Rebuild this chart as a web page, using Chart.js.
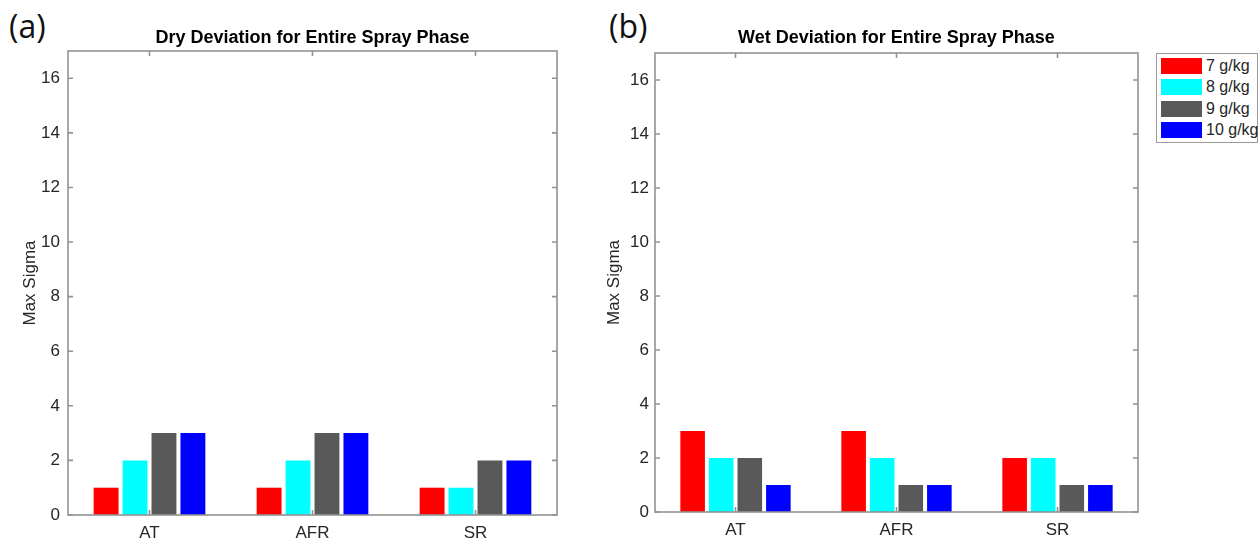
<!DOCTYPE html>
<html>
<head>
<meta charset="utf-8">
<script src="https://cdn.jsdelivr.net/npm/chart.js@4.4.1/dist/chart.umd.min.js"></script>
<style>
  html, body { margin: 0; padding: 0; background: #ffffff; }
  body { width: 1258px; height: 543px; position: relative; overflow: hidden; font-family: "Liberation Sans", Arial, sans-serif; }
  canvas { position: absolute; top: 0; }
  #dryCanvas { left: 0; }
  #wetCanvas { left: 600px; }
  .panel-tag { position: absolute; font-family: "Open Sans", "Noto Sans", sans-serif; font-size: 32px; color: #111; line-height: 1; }
  #legend { position: absolute; left: 1156px; top: 53px; width: 102px; height: 90px; border: 1px solid #9a9a9a; box-sizing: border-box; background: #fff; }
  .leg-row { position: absolute; left: 4px; height: 16px; }
  .leg-swatch { position: absolute; left: 0; top: 0; width: 41px; height: 16px; }
  .leg-text { position: absolute; left: 45px; top: -2px; font-size: 16px; line-height: 19px; color: #262626; white-space: nowrap; }
</style>
</head>
<body>
<div class="panel-tag" style="left:9px; top:10px;">(a)</div>
<div class="panel-tag" style="left:609px; top:10px;">(b)</div>
<canvas id="dryCanvas" width="600" height="543"></canvas>
<canvas id="wetCanvas" width="550" height="543"></canvas>
<div id="legend"></div>
<script>
// Categories and series
const categories = ['AT', 'AFR', 'SR'];
const seriesLabels = ['7 g/kg', '8 g/kg', '9 g/kg', '10 g/kg'];

// Max sigma, dry deviation (one array per humidity level)
const dry7 = [1, 1, 1];
const dry8 = [2, 2, 1];
const dry9 = [3, 3, 2];
const dry10 = [3, 3, 2];

// Max sigma, wet deviation
const wet7 = [3, 3, 2];
const wet8 = [2, 2, 2];
const wet9 = [2, 1, 1];
const wet10 = [1, 1, 1];

// Y axis range and tick step
const yMin = 0;
const yMax = 17;
const yStep = 2;

const seriesColors = ['#ff0000', '#00ffff', '#595959', '#0000ff'];
const tickColor = '#262626';
const frameColor = '#939393';
const fontFamily = '"Liberation Sans", Arial, sans-serif';

// Closed axes box with inward tick marks on all four sides
const boxFrame = {
  id: 'boxFrame',
  afterDatasetsDraw(chart) {
    const { ctx, chartArea: a, scales: { x, y } } = chart;
    const len = 5;
    ctx.save();
    ctx.strokeStyle = frameColor;
    ctx.lineWidth = 1.6;
    ctx.beginPath();
    y.ticks.forEach(t => {
      const py = y.getPixelForValue(t.value);
      ctx.moveTo(a.left, py); ctx.lineTo(a.left + len, py);
      ctx.moveTo(a.right, py); ctx.lineTo(a.right - len, py);
    });
    x.ticks.forEach((t, i) => {
      const px = x.getPixelForTick(i);
      ctx.moveTo(px, a.bottom); ctx.lineTo(px, a.bottom - len);
      ctx.moveTo(px, a.top); ctx.lineTo(px, a.top + len);
    });
    ctx.stroke();
    ctx.strokeRect(a.left, a.top, a.right - a.left, a.bottom - a.top);
    ctx.restore();
  }
};

function makeChart(canvasId, titleText, values, geom) {
  const datasets = values.map((v, i) => ({
    label: seriesLabels[i],
    data: v,
    backgroundColor: seriesColors[i],
    borderWidth: 0,
    categoryPercentage: 0.71,
    barPercentage: 0.86
  }));
  return new Chart(document.getElementById(canvasId), {
    type: 'bar',
    data: { labels: categories, datasets },
    options: {
      responsive: false,
      animation: false,
      devicePixelRatio: 1,
      layout: { padding: { left: 0, right: geom.rightPad, top: 0, bottom: 0 } },
      plugins: {
        legend: { display: false },
        tooltip: { enabled: false },
        title: {
          display: true,
          text: titleText,
          fullSize: false,
          color: '#000000',
          font: { family: fontFamily, size: 18, weight: 'bold', lineHeight: 1.2 },
          padding: { top: 27.2, bottom: geom.titleBottom }
        }
      },
      scales: {
        x: {
          grid: { display: false, drawTicks: false },
          border: { display: false },
          ticks: {
            color: tickColor,
            padding: 8,
            font: { family: fontFamily, size: 17 }
          },
          afterFit(scale) { scale.height = geom.xHeight; }
        },
        y: {
          min: yMin,
          max: yMax,
          grid: { display: false, drawTicks: false },
          border: { display: false },
          ticks: {
            stepSize: yStep,
            includeBounds: false,
            color: tickColor,
            padding: geom.yLabelPad,
            font: { family: fontFamily, size: 17 }
          },
          title: {
            display: true,
            text: 'Max Sigma',
            color: tickColor,
            padding: { top: geom.yTitlePad, bottom: 0 },
            font: { family: fontFamily, size: 17, lineHeight: 1.2 }
          },
          afterFit(scale) { scale.width = geom.yWidth; }
        }
      }
    },
    plugins: [boxFrame]
  });
}

makeChart('dryCanvas', 'Dry Deviation for Entire Spray Phase',
  [dry7, dry8, dry9, dry10],
  { rightPad: 43, titleBottom: 2.2, xHeight: 28, yWidth: 68, yLabelPad: 8, yTitlePad: 20 });

makeChart('wetCanvas', 'Wet Deviation for Entire Spray Phase',
  [wet7, wet8, wet9, wet10],
  { rightPad: 12, titleBottom: 4.2, xHeight: 31, yWidth: 55, yLabelPad: 6, yTitlePad: 4 });

// Legend built from the series labels and colours
const legend = document.getElementById('legend');
seriesLabels.forEach((lab, i) => {
  const row = document.createElement('div');
  row.className = 'leg-row';
  row.style.top = (4 + i * 21.3) + 'px';
  const sw = document.createElement('div');
  sw.className = 'leg-swatch';
  sw.style.background = seriesColors[i];
  const tx = document.createElement('div');
  tx.className = 'leg-text';
  tx.textContent = lab;
  row.appendChild(sw);
  row.appendChild(tx);
  legend.appendChild(row);
});
</script>
</body>
</html>
